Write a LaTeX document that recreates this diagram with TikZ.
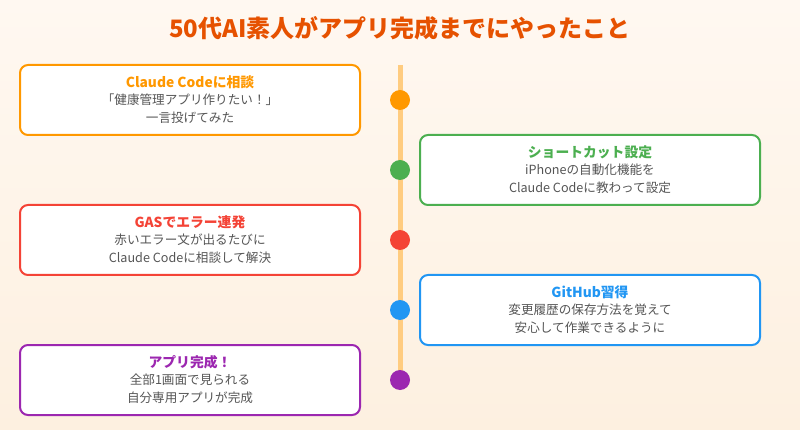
\documentclass[tikz,border=0pt]{standalone}
\usepackage{fontspec}
\setmainfont{Noto Sans CJK JP}
\definecolor{bgtop}{HTML}{FFF8F1}
\definecolor{bgbot}{HTML}{FDF0E0}
\definecolor{titlec}{HTML}{E65100}
\definecolor{linec}{HTML}{FFCC80}
\definecolor{txtc}{HTML}{555555}
\definecolor{corange}{HTML}{FF9800}
\definecolor{cgreen}{HTML}{4CAF50}
\definecolor{cred}{HTML}{F44336}
\definecolor{cblue}{HTML}{2196F3}
\definecolor{cpurple}{HTML}{9C27B0}
\begin{document}
\begin{tikzpicture}[x=1pt,y=-1pt,
  card/.style={draw=#1, line width=2pt, fill=white, rounded corners=8pt,
    minimum width=340pt, minimum height=70pt, inner sep=0pt},
  dot/.style={circle, fill=#1, minimum size=20pt, inner sep=0pt},
  ttl/.style={font=\bfseries\fontsize{13.8}{15}\selectfont, text=#1},
  body/.style={font=\fontsize{12.6}{18}\selectfont, text=txtc, align=center}]
\useasboundingbox (0,0) rectangle (800,430);
\shade[top color=bgtop, bottom color=bgbot] (0,0) rectangle (800,430);
\node[font=\bfseries\fontsize{24}{27}\selectfont, text=titlec] (title) at (400,28) {50代AI素人がアプリ完成までにやったこと};
\coordinate (ltop) at (400,65);
\coordinate (lbot) at (400,380);
\draw[linec, line width=5pt] (ltop) -- (lbot);
% cards
\node[card=corange] (c1) at (190,100) {};
\node[card=cgreen] (c2) at (590,170) {};
\node[card=cred] (c3) at (190,240) {};
\node[card=cblue] (c4) at (590,310) {};
\node[card=cpurple] (c5) at (190,380) {};
% dots
\node[dot=corange] (d1) at (400,100) {};
\node[dot=cgreen] (d2) at (400,170) {};
\node[dot=cred] (d3) at (400,240) {};
\node[dot=cblue] (d4) at (400,310) {};
\node[dot=cpurple] (d5) at (400,380) {};
% texts
\node[ttl=corange] (t1) at (190,82.5) {Claude Codeに相談};
\node[body] (b1) at (190,109) {「健康管理アプリ作りたい！」\\一言投げてみた};
\node[ttl=cgreen] (t2) at (590,152.5) {ショートカット設定};
\node[body] (b2) at (590,179) {iPhoneの自動化機能を\\Claude Codeに教わって設定};
\node[ttl=cred] (t3) at (190,222.5) {GASでエラー連発};
\node[body] (b3) at (190,249) {赤いエラー文が出るたびに\\Claude Codeに相談して解決};
\node[ttl=cblue] (t4) at (590,292.5) {GitHub習得};
\node[body] (b4) at (590,319) {変更履歴の保存方法を覚えて\\安心して作業できるように};
\node[ttl=cpurple] (t5) at (190,362.5) {アプリ完成！};
\node[body] (b5) at (190,389) {全部1画面で見られる\\自分専用アプリが完成};
\end{tikzpicture}
\end{document}
